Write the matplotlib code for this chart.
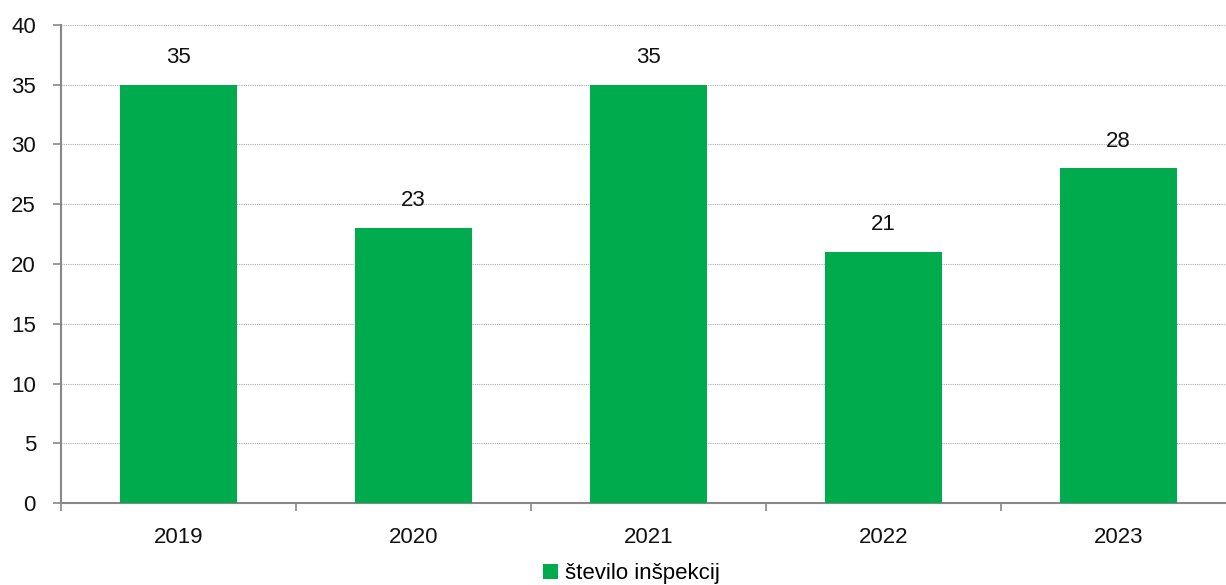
import numpy as np
import matplotlib
matplotlib.use("Agg")
import matplotlib.pyplot as plt
from matplotlib.patches import Patch

plt.rcParams["font.family"] = ["Liberation Sans", "DejaVu Sans"]

years = ["2019", "2020", "2021", "2022", "2023"]
inspections = [35, 23, 35, 21, 28]
series_name = "število inšpekcij"

GREEN = "#00AB4E"
AXIS_GRAY = "#888888"
FS = 16

fig = plt.figure(figsize=(12.26, 5.85), dpi=100)
# plot area runs slightly past the right edge of the image, as in the source
ax = fig.add_axes([61 / 1226, 1 - 503 / 585, 1175 / 1226, (503 - 25) / 585])

x = np.arange(len(years))
ax.bar(x, inspections, width=0.5, color=GREEN, zorder=3)
for xi, v in zip(x, inspections):
    ax.text(xi, v + 1.4, str(v), ha="center", va="bottom", fontsize=FS, color="#111111")

ax.set_xlim(-0.5, len(years) - 0.5)
ax.set_ylim(0, 40)
ax.set_yticks(range(0, 41, 5))
ax.yaxis.grid(True, linestyle=(0, (1, 1)), color="#aaaaaa", linewidth=0.8, zorder=0)

# category labels centred, tick marks between categories
ax.set_xticks(x)
ax.set_xticklabels(years)
ax.tick_params(axis="x", length=0, pad=17, labelsize=FS, labelcolor="#111111")
ax.set_xticks(np.arange(-0.5, len(years), 1.0), minor=True)
ax.tick_params(axis="x", which="minor", length=6, width=1.2, color=AXIS_GRAY, direction="out")
ax.tick_params(axis="y", length=6, width=1.2, color=AXIS_GRAY, labelsize=FS,
               labelcolor="#111111", pad=12)

for side in ["top", "right"]:
    ax.spines[side].set_visible(False)
for side in ["left", "bottom"]:
    ax.spines[side].set_color(AXIS_GRAY)
    ax.spines[side].set_linewidth(1.5)

handle = Patch(facecolor=GREEN, edgecolor="none", label=series_name)
fig.legend(handles=[handle], loc="lower center", bbox_to_anchor=(0.515, -0.033),
           frameon=False, fontsize=FS, handlelength=0.7, handleheight=0.7,
           handletextpad=0.3)

plt.savefig("out.png", dpi=100)
plt.close()
